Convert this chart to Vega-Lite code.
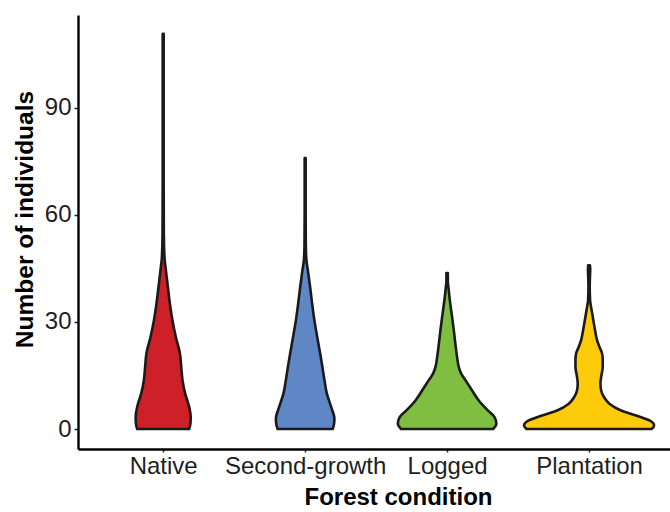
{
  "$schema": "https://vega.github.io/schema/vega-lite/v6.json",
  "width": 592,
  "height": 434,
  "autosize": {"type": "none"},
  "padding": {"left": 78, "top": 15, "right": 0, "bottom": 63},
  "background": "white",
  "config": {"view": {"stroke": null}, "font": "Liberation Sans"},
  "data": {"values": [
    {"condition": "Native", "y": 0, "density": 0.183},
    {"condition": "Native", "y": 1.5, "density": 0.192},
    {"condition": "Native", "y": 3.4, "density": 0.194},
    {"condition": "Native", "y": 6.2, "density": 0.183},
    {"condition": "Native", "y": 9.9, "density": 0.155},
    {"condition": "Native", "y": 13.7, "density": 0.136},
    {"condition": "Native", "y": 17.5, "density": 0.127},
    {"condition": "Native", "y": 21.2, "density": 0.118},
    {"condition": "Native", "y": 25.8, "density": 0.089},
    {"condition": "Native", "y": 30.5, "density": 0.065},
    {"condition": "Native", "y": 35.2, "density": 0.047},
    {"condition": "Native", "y": 39.8, "density": 0.033},
    {"condition": "Native", "y": 44.5, "density": 0.019},
    {"condition": "Native", "y": 48.2, "density": 0.009},
    {"condition": "Native", "y": 55, "density": 0.0045},
    {"condition": "Native", "y": 70, "density": 0.0035},
    {"condition": "Native", "y": 90, "density": 0.0035},
    {"condition": "Native", "y": 105, "density": 0.0035},
    {"condition": "Native", "y": 110.7, "density": 0.0035},
    {"condition": "Second-growth", "y": 0, "density": 0.194},
    {"condition": "Second-growth", "y": 1.5, "density": 0.204},
    {"condition": "Second-growth", "y": 2.9, "density": 0.206},
    {"condition": "Second-growth", "y": 6.2, "density": 0.183},
    {"condition": "Second-growth", "y": 9.9, "density": 0.153},
    {"condition": "Second-growth", "y": 13.7, "density": 0.136},
    {"condition": "Second-growth", "y": 17.5, "density": 0.121},
    {"condition": "Second-growth", "y": 21.1, "density": 0.106},
    {"condition": "Second-growth", "y": 25.8, "density": 0.085},
    {"condition": "Second-growth", "y": 30.5, "density": 0.065},
    {"condition": "Second-growth", "y": 35.2, "density": 0.049},
    {"condition": "Second-growth", "y": 39.8, "density": 0.035},
    {"condition": "Second-growth", "y": 44.5, "density": 0.019},
    {"condition": "Second-growth", "y": 47.3, "density": 0.009},
    {"condition": "Second-growth", "y": 52, "density": 0.0045},
    {"condition": "Second-growth", "y": 60, "density": 0.0035},
    {"condition": "Second-growth", "y": 70, "density": 0.0035},
    {"condition": "Second-growth", "y": 75.9, "density": 0.0035},
    {"condition": "Logged", "y": 0, "density": 0.324},
    {"condition": "Logged", "y": 1.5, "density": 0.347},
    {"condition": "Logged", "y": 3.4, "density": 0.333},
    {"condition": "Logged", "y": 5.2, "density": 0.287},
    {"condition": "Logged", "y": 8.0, "density": 0.223},
    {"condition": "Logged", "y": 10.8, "density": 0.176},
    {"condition": "Logged", "y": 13.7, "density": 0.129},
    {"condition": "Logged", "y": 15.5, "density": 0.099},
    {"condition": "Logged", "y": 17.4, "density": 0.082},
    {"condition": "Logged", "y": 20.2, "density": 0.070},
    {"condition": "Logged", "y": 23.9, "density": 0.058},
    {"condition": "Logged", "y": 27.7, "density": 0.047},
    {"condition": "Logged", "y": 31.4, "density": 0.035},
    {"condition": "Logged", "y": 36.1, "density": 0.019},
    {"condition": "Logged", "y": 39.8, "density": 0.009},
    {"condition": "Logged", "y": 41.5, "density": 0.005},
    {"condition": "Logged", "y": 43.7, "density": 0.005},
    {"condition": "Plantation", "y": 0, "density": 0.44},
    {"condition": "Plantation", "y": 1.0, "density": 0.458},
    {"condition": "Plantation", "y": 2.4, "density": 0.425},
    {"condition": "Plantation", "y": 3.8, "density": 0.331},
    {"condition": "Plantation", "y": 5.2, "density": 0.225},
    {"condition": "Plantation", "y": 7.1, "density": 0.143},
    {"condition": "Plantation", "y": 9.0, "density": 0.104},
    {"condition": "Plantation", "y": 10.8, "density": 0.085},
    {"condition": "Plantation", "y": 12.7, "density": 0.080},
    {"condition": "Plantation", "y": 14.6, "density": 0.085},
    {"condition": "Plantation", "y": 17.4, "density": 0.096},
    {"condition": "Plantation", "y": 19.3, "density": 0.096},
    {"condition": "Plantation", "y": 21.1, "density": 0.092},
    {"condition": "Plantation", "y": 23.0, "density": 0.073},
    {"condition": "Plantation", "y": 24.9, "density": 0.056},
    {"condition": "Plantation", "y": 27.7, "density": 0.042},
    {"condition": "Plantation", "y": 31.4, "density": 0.026},
    {"condition": "Plantation", "y": 34.2, "density": 0.014},
    {"condition": "Plantation", "y": 36.1, "density": 0.007},
    {"condition": "Plantation", "y": 40, "density": 0.0045},
    {"condition": "Plantation", "y": 43, "density": 0.0065},
    {"condition": "Plantation", "y": 44.8, "density": 0.008},
    {"condition": "Plantation", "y": 45.9, "density": 0.006}
  ]},
  "transform": [
    {"calculate": "indexof(['Native','Second-growth','Logged','Plantation'], datum.condition) + 1", "as": "pos"},
    {"calculate": "datum.pos - datum.density", "as": "left"},
    {"calculate": "datum.pos + datum.density", "as": "right"}
  ],
  "mark": {"type": "area", "orient": "horizontal", "interpolate": "monotone", "stroke": "#1a1a1a", "strokeWidth": 2.6, "strokeJoin": "round"},
  "encoding": {
    "y": {
      "field": "y", "type": "quantitative",
      "scale": {"domain": [-5.6, 116], "nice": false, "zero": false},
      "axis": {
        "values": [0, 30, 60, 90], "grid": false,
        "title": "Number of individuals", "titleFontSize": 24.5, "titleFontWeight": "bold", "titleColor": "#000000",
        "titlePadding": 7, "titleY": 204,
        "labelFontSize": 24, "labelColor": "#1e1e1e", "labelPadding": 3,
        "tickSize": 4, "tickColor": "#1e1e1e", "tickWidth": 1.5,
        "domainColor": "#000000", "domainWidth": 2.4
      }
    },
    "x": {
      "field": "left", "type": "quantitative", "stack": null,
      "scale": {"domain": [0.4, 4.57], "nice": false, "zero": false},
      "axis": {
        "values": [1, 2, 3, 4], "grid": false,
        "labelExpr": "['Native','Second-growth','Logged','Plantation'][datum.value - 1]",
        "labelFlush": false, "labelOverlap": false,
        "title": "Forest condition", "titleFontSize": 24, "titleFontWeight": "bold", "titleColor": "#000000",
        "titlePadding": 7, "titleX": 320,
        "labelFontSize": 24, "labelColor": "#1e1e1e", "labelPadding": 2,
        "tickSize": 3, "tickColor": "#1e1e1e", "tickWidth": 1.5,
        "domainColor": "#000000", "domainWidth": 2.4
      }
    },
    "x2": {"field": "right"},
    "fill": {
      "field": "condition", "type": "nominal",
      "scale": {"domain": ["Native", "Second-growth", "Logged", "Plantation"], "range": ["#CE2029", "#5F86C5", "#80BE41", "#FECB0A"]},
      "legend": null
    }
  }
}
